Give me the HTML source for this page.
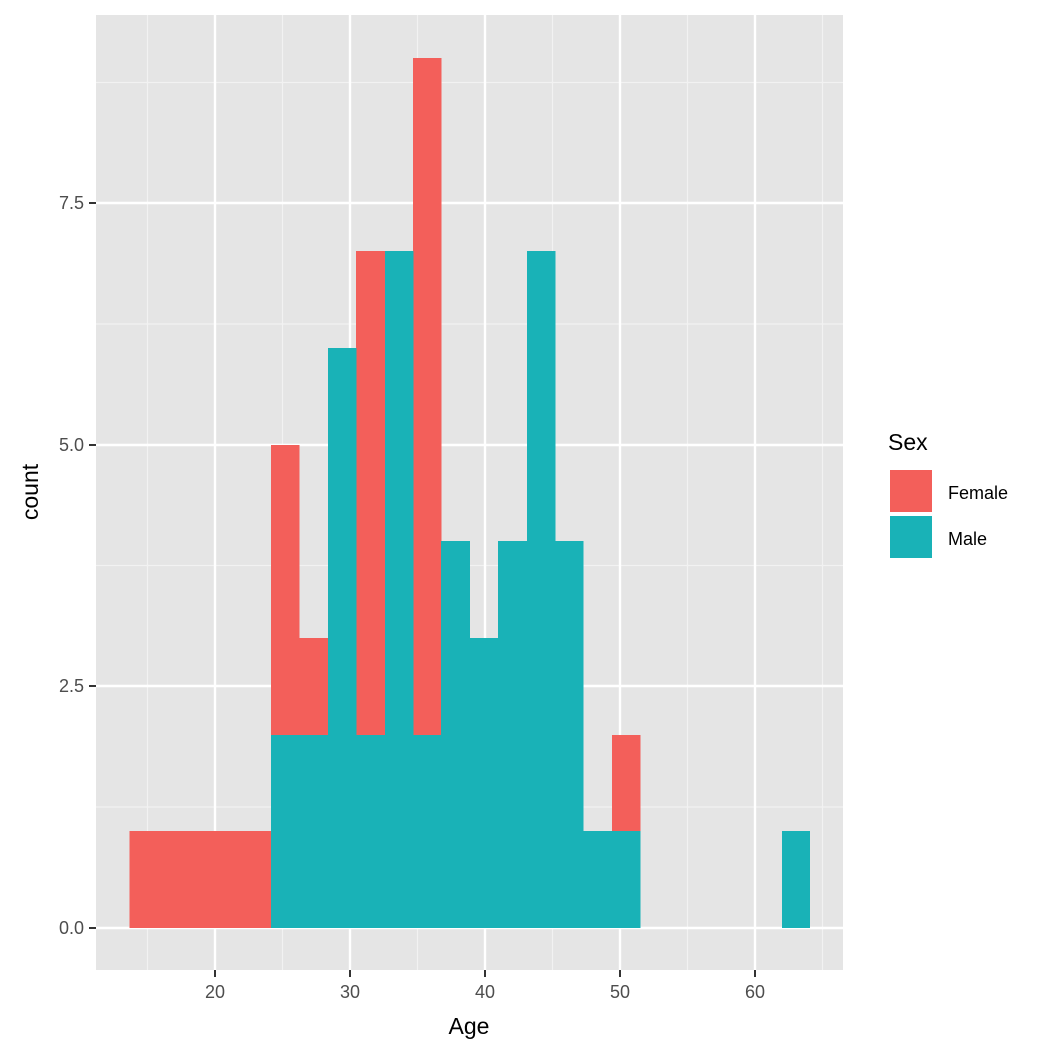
<!DOCTYPE html>
<html><head><style>body{margin:0;background:#fff}svg{display:block}</style></head><body>
<svg width="1056" height="1056" xmlns="http://www.w3.org/2000/svg" font-family="Liberation Sans, sans-serif">
<rect x="96" y="15" width="747" height="955" fill="#e5e5e5"/>
<g stroke="#f2f2f2" stroke-width="1.2">
<line x1="147.5" y1="15" x2="147.5" y2="970"/><line x1="282.5" y1="15" x2="282.5" y2="970"/><line x1="417.5" y1="15" x2="417.5" y2="970"/><line x1="552.5" y1="15" x2="552.5" y2="970"/><line x1="687.5" y1="15" x2="687.5" y2="970"/><line x1="822.5" y1="15" x2="822.5" y2="970"/>
<line x1="96" y1="807" x2="843" y2="807"/><line x1="96" y1="565.5" x2="843" y2="565.5"/><line x1="96" y1="324" x2="843" y2="324"/><line x1="96" y1="82.5" x2="843" y2="82.5"/>
</g>
<g stroke="#fff" stroke-width="2.4">
<line x1="215" y1="15" x2="215" y2="970"/><line x1="350" y1="15" x2="350" y2="970"/><line x1="485" y1="15" x2="485" y2="970"/><line x1="620" y1="15" x2="620" y2="970"/><line x1="755" y1="15" x2="755" y2="970"/>
<line x1="96" y1="928" x2="843" y2="928"/><line x1="96" y1="686" x2="843" y2="686"/><line x1="96" y1="445" x2="843" y2="445"/><line x1="96" y1="203" x2="843" y2="203"/>
</g>
<g fill="#f8766d" fill-opacity="1">
<rect fill="#f35f5a" x="129.5" y="831" width="141.5" height="97"/>
</g>
<g fill="#f35f5a">
<rect x="271" y="445" width="28.5" height="290"/>
<rect x="299" y="638" width="29" height="97"/>
<rect x="356" y="251" width="29" height="484"/>
<rect x="413" y="58" width="28.5" height="677"/>
<rect x="612" y="735" width="28.5" height="97"/>
</g>
<g fill="#19b2b7">
<rect x="271" y="735" width="57" height="193"/>
<rect x="328" y="348" width="28.5" height="580"/>
<rect x="356" y="735" width="29" height="193"/>
<rect x="385" y="251" width="28.5" height="677"/>
<rect x="413" y="735" width="28.5" height="193"/>
<rect x="441" y="541" width="29" height="387"/>
<rect x="470" y="638" width="28.5" height="290"/>
<rect x="498" y="541" width="29" height="387"/>
<rect x="527" y="251" width="28.5" height="677"/>
<rect x="555" y="541" width="28.5" height="387"/>
<rect x="583" y="831" width="57.5" height="97"/>
<rect x="782" y="831" width="28" height="97"/>
</g>
<g stroke="#333" stroke-width="2">
<line x1="89" y1="928" x2="96" y2="928"/><line x1="89" y1="686" x2="96" y2="686"/><line x1="89" y1="445" x2="96" y2="445"/><line x1="89" y1="203" x2="96" y2="203"/>
<line x1="215" y1="970" x2="215" y2="977"/><line x1="350" y1="970" x2="350" y2="977"/><line x1="485" y1="970" x2="485" y2="977"/><line x1="620" y1="970" x2="620" y2="977"/><line x1="755" y1="970" x2="755" y2="977"/>
</g>
<g fill="#4d4d4d" font-size="18" text-anchor="end">
<text x="84" y="934">0.0</text><text x="84" y="692">2.5</text><text x="84" y="451">5.0</text><text x="84" y="209">7.5</text>
</g>
<g fill="#4d4d4d" font-size="18" text-anchor="middle">
<text x="215" y="998">20</text><text x="350" y="998">30</text><text x="485" y="998">40</text><text x="620" y="998">50</text><text x="755" y="998">60</text>
</g>
<text x="469" y="1034" font-size="23" text-anchor="middle">Age</text>
<text transform="translate(38,492) rotate(-90)" font-size="23" text-anchor="middle">count</text>
<text x="888" y="450" font-size="23">Sex</text>
<rect x="889" y="469" width="44" height="44" fill="#f35f5a" stroke="#fff" stroke-width="2"/>
<rect x="889" y="515" width="44" height="44" fill="#19b2b7" stroke="#fff" stroke-width="2"/>
<text x="948" y="499" font-size="18">Female</text>
<text x="948" y="545" font-size="18">Male</text>
</svg>
</body></html>
